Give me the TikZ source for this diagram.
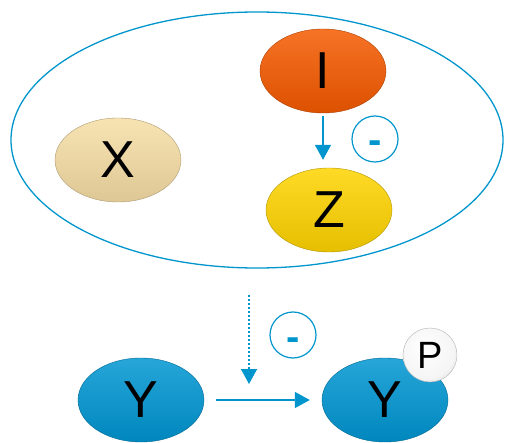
\documentclass[tikz,border=0pt]{standalone}
\usepackage{fontspec}
\setmainfont{Liberation Sans}
\definecolor{linkblue}{RGB}{0,150,205}
\definecolor{iorange}{RGB}{245,90,0}
\definecolor{zyellow}{RGB}{255,212,0}
\definecolor{xtan}{RGB}{246,222,165}
\definecolor{yblue}{RGB}{0,150,210}
\usetikzlibrary{arrows.meta,positioning,shapes.geometric}
\pgfdeclareradialshading{pball}{\pgfpoint{-6bp}{8bp}}{color(0bp)=(white); color(26bp)=(white!96!black); color(44bp)=(black!25); color(60bp)=(black!45)}

\begin{document}
\begin{tikzpicture}[x=1pt, y=-1pt,
    mol/.style={ellipse, draw=#1!70!black, line width=0.4pt, top color=#1!85!white, middle color=#1, bottom color=#1!90!black, minimum width=126, minimum height=84, inner sep=0pt, font=\fontsize{52}{52}\selectfont},
    sign/.style={circle, draw=linkblue, line width=1.2pt, minimum size=46, inner sep=0pt, text height=30pt, text depth=0pt, text=linkblue, font=\fontsize{40}{40}\selectfont\bfseries},
    arrow/.style={-{Triangle[length=15pt, width=16pt]}, draw=linkblue, line width=1.5pt}
]
    \useasboundingbox (0,0) rectangle (505,443);
    % compartment
    \node[ellipse, draw=linkblue, line width=1.3pt, minimum width=492, minimum height=256] (cell) at (257,140) {};

    \node[mol=iorange] (nodeI) at (323,71) {I};
    \node[mol=zyellow] (nodeZ) at (329,210) {Z};
    \node[mol=xtan] (nodeX) at (118,160) {X};
    \node[sign] (signIZ) at (375,139) {-};

    \draw[arrow, shorten <=3, shorten >=8] (nodeI.south) -- (nodeI.south |- nodeZ.north);

    % phosphorylation
    \node[mol=yblue] (yl) at (141,400) {Y};
    \node[mol=yblue] (yr) at (385,400) {Y};
    \node[circle, shading=pball, draw=black!30, line width=0.4pt, minimum size=54, inner sep=0pt, font=\fontsize{38}{38}\selectfont] (phos) at (430,355) {P};
    \node[sign] (signY) at (293,335) {-};

    \draw[arrow, shorten <=12, shorten >=12] (yl.east) -- (yr.west);
    \coordinate (dotstart) at (249,295);
    \draw[arrow, dash pattern=on 2pt off 2pt, shorten >=16] (dotstart) -- (dotstart |- yl.east);
\end{tikzpicture}
\end{document}
